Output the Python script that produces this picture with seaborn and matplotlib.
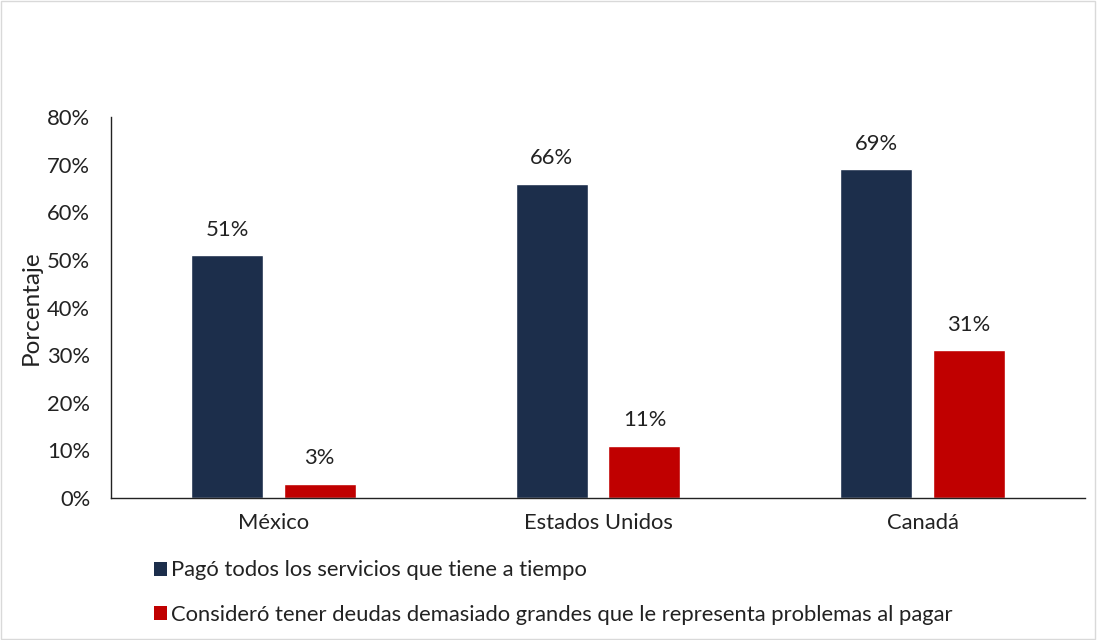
import matplotlib
matplotlib.use("Agg")
import matplotlib.pyplot as plt
import seaborn as sns
import pandas as pd
from matplotlib.patches import Rectangle, Patch

countries = ["México", "Estados Unidos", "Canadá"]
series_names = ["Pagó todos los servicios que tiene a tiempo",
                "Consideró tener deudas demasiado grandes que le representa problemas al pagar"]
pago = [51, 66, 69]
deudas = [3, 11, 31]
colors = ["#1C2E4B", "#C00000"]
yticks = [0, 10, 20, 30, 40, 50, 60, 70, 80]

df = pd.DataFrame({
    "pais": countries * 2,
    "serie": [series_names[0]] * 3 + [series_names[1]] * 3,
    "valor": pago + deudas,
})

sns.set_theme(style="white")
plt.rcParams['font.family'] = ['Lato', 'DejaVu Sans']

FS = 15.8
fig = plt.figure(figsize=(10.97, 6.4), dpi=100)
ax = fig.add_axes([0.1012, 0.222, 0.8878, 0.595])

sns.barplot(data=df, x="pais", y="valor", hue="serie", palette=colors,
            width=0.572, gap=0.224, ax=ax, legend=False, saturation=1)

for cont in ax.containers:
    labels = [f"{v:.0f}%" for v in cont.datavalues]
    ax.bar_label(cont, labels=labels, padding=11, fontsize=FS, color="#222222")

ax.set_ylim(0, 80)
ax.set_yticks(yticks)
ax.set_yticklabels([f"{t}%" for t in yticks], fontsize=FS)
ax.set_xlim(-0.5, 2.5)
ax.tick_params(axis="x", labelsize=FS, length=0, pad=11, labelcolor="#222222")
ax.tick_params(axis="y", length=0, pad=15, labelcolor="#222222")
ax.set_xlabel("")
ax.set_ylabel("Porcentaje", fontsize=17.5, labelpad=4, color="#222222")
for s in ["top", "right"]:
    ax.spines[s].set_visible(False)
for s in ["left", "bottom"]:
    ax.spines[s].set_color("#222222")
    ax.spines[s].set_linewidth(1.0)

handles = [Patch(facecolor=c, edgecolor="none") for c in colors]
leg = fig.legend(handles, series_names, loc="upper left",
                 bbox_to_anchor=(0.132, 0.138), frameon=False, fontsize=FS,
                 handlelength=0.6, handleheight=0.6, handletextpad=0.2,
                 labelspacing=1.1, borderaxespad=0)
for t in leg.get_texts():
    t.set_color("#222222")

fig.patches.append(Rectangle((0.001, 0.001), 0.997, 0.997, transform=fig.transFigure,
                             fill=False, edgecolor="#D9D9D9", linewidth=1.0))

fig.savefig("out.png", dpi=100)
